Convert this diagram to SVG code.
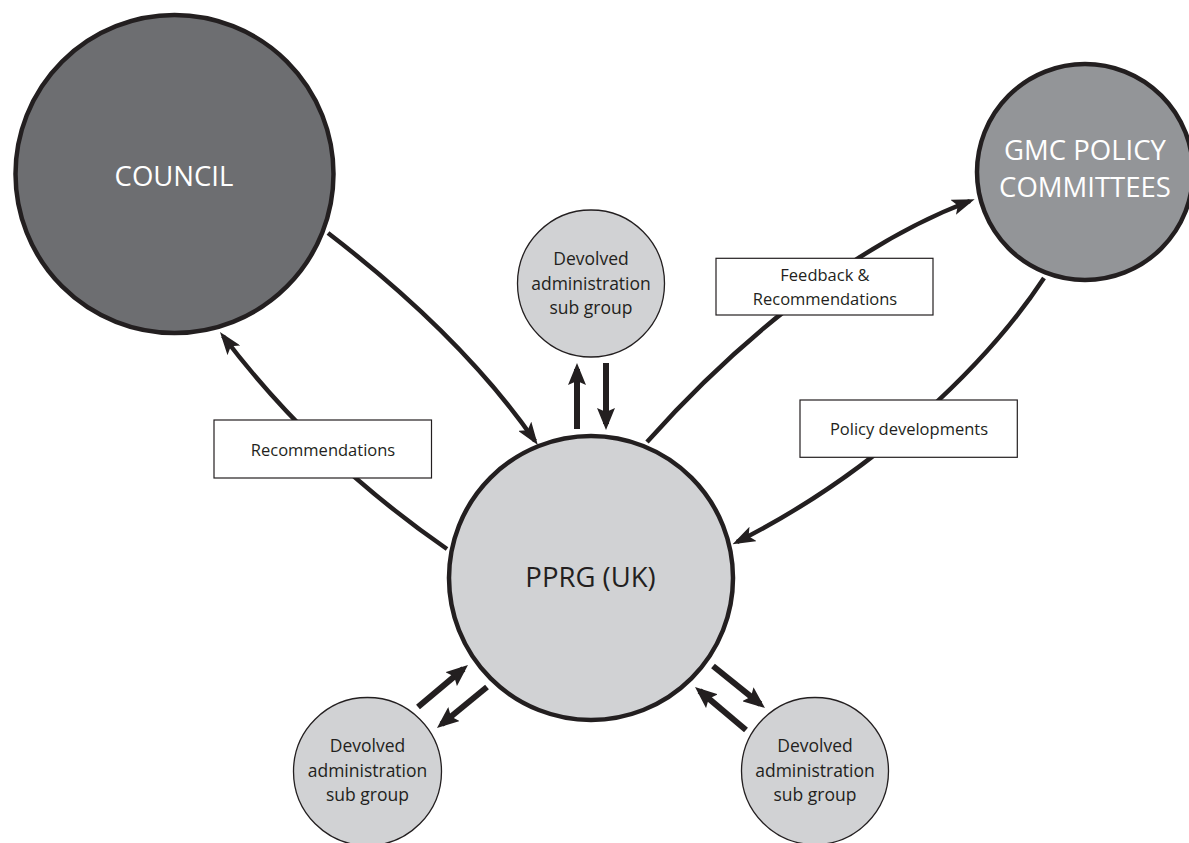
<svg xmlns="http://www.w3.org/2000/svg" width="1189" height="843" viewBox="0 0 1189 843">
<defs>
<style>
.big{stroke:#231f20;stroke-width:4.5}
.small{fill:#d1d2d4;stroke:#231f20;stroke-width:1.3}
.t{font-family:"Open Sans","Liberation Sans",sans-serif;text-anchor:middle}
.wt{fill:#ffffff;font-size:27.5px}
.dt{fill:#231f20;font-size:27.5px}
.st{fill:#231f20;font-size:17.5px}
.lt{fill:#231f20;font-size:16.5px}
.conn{fill:none;stroke:#231f20;stroke-width:4.5;marker-end:url(#ah)}
.sconn{fill:none;stroke:#231f20;stroke-width:6;marker-end:url(#sah)}
.box{fill:#ffffff;stroke:#231f20;stroke-width:1.2}
</style>
<marker id="ah" viewBox="0 0 23 16" refX="18" refY="8" markerWidth="23" markerHeight="16" markerUnits="userSpaceOnUse" orient="auto">
<path d="M0,0 L23,8 L0,16 L5,8 z" fill="#231f20"/>
</marker>
<marker id="sah" viewBox="0 0 22 18" refX="16" refY="9" markerWidth="22" markerHeight="18" markerUnits="userSpaceOnUse" orient="auto">
<path d="M0,0 L22,9 L0,18 L4,9 z" fill="#231f20"/>
</marker>
</defs>
<rect width="1189" height="843" fill="#ffffff"/>

<g id="council">
<circle class="big" cx="174.5" cy="174" r="159" fill="#6d6e71"/>
<text class="t wt" x="174" y="185.7">COUNCIL</text>
</g>
<g id="gmc">
<circle class="big" cx="1085" cy="172" r="108" fill="#939598"/>
<text class="t wt" x="1085" y="160">GMC POLICY</text>
<text class="t wt" x="1085" y="196.7">COMMITTEES</text>
</g>
<g id="pprg">
<circle class="big" cx="591" cy="578" r="142" fill="#d1d2d4"/>
<text class="t dt" x="590.5" y="586.7">PPRG (UK)</text>
</g>
<g id="sub-top">
<circle class="small" cx="591" cy="283.5" r="73.5"/>
<text class="t st" x="591" y="265">Devolved</text>
<text class="t st" x="591" y="289.5">administration</text>
<text class="t st" x="591" y="313.5">sub group</text>
</g>
<g id="sub-left">
<circle class="small" cx="367.5" cy="771.5" r="74"/>
<text class="t st" x="367.5" y="752">Devolved</text>
<text class="t st" x="367.5" y="776.5">administration</text>
<text class="t st" x="367.5" y="800.5">sub group</text>
</g>
<g id="sub-right">
<circle class="small" cx="815" cy="771" r="73.5"/>
<text class="t st" x="815" y="752">Devolved</text>
<text class="t st" x="815" y="776.5">administration</text>
<text class="t st" x="815" y="800.5">sub group</text>
</g>

<g id="connectors">
<path class="conn" d="M328,233 Q462,336 535,441"/>
<path class="conn" d="M447,549 Q315,457.6 223,336"/>
<path class="conn" d="M647,442 C720,360 840,250 970,201"/>
<path class="conn" d="M1044,278 C990,360 880,470 737,542"/>
<path class="sconn" d="M577,429 L577,369"/>
<path class="sconn" d="M606,363 L606,424"/>
<path class="sconn" d="M418,707 L463.4,668.9"/>
<path class="sconn" d="M487,687 L441.6,724.2"/>
<path class="sconn" d="M713,666 L760.3,704.2"/>
<path class="sconn" d="M746,730 L699.6,690.9"/>
<g id="label-recommendations">
<rect class="box" x="214" y="420" width="217.5" height="58"/>
<text class="t lt" x="323" y="456">Recommendations</text>
</g>
<g id="label-feedback">
<rect class="box" x="716" y="258.3" width="217" height="56.7"/>
<text class="t lt" x="825" y="280.7">Feedback &amp;</text>
<text class="t lt" x="825" y="305">Recommendations</text>
</g>
<g id="label-policy">
<rect class="box" x="800" y="400" width="217.3" height="57.3"/>
<text class="t lt" x="909" y="435">Policy developments</text>
</g>
</g>
</svg>
